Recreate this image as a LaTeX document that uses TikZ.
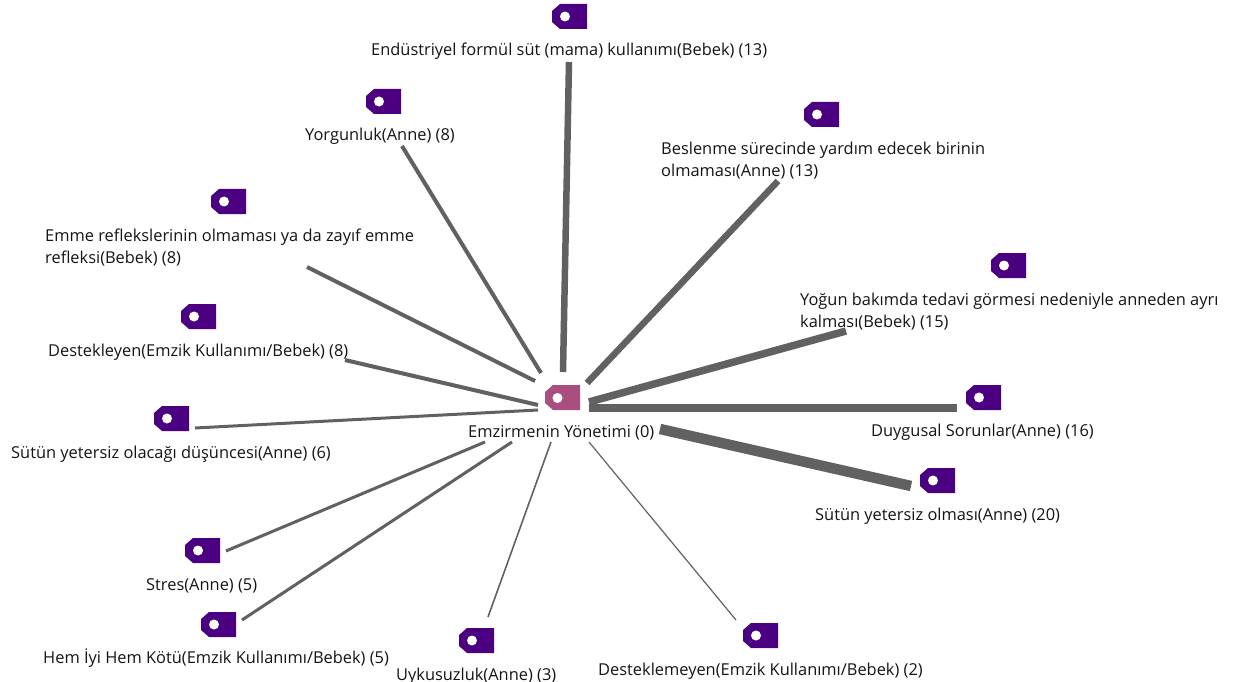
\documentclass[tikz,border=0pt]{standalone}
\usepackage{fontspec}
\setmainfont{Open Sans}
\tikzset{
  x=1pt,y=-1pt,
  lab/.style={anchor=base west,inner sep=0pt,font=\fontsize{16.4}{21.5}\selectfont,text=black!92,align=left},
  edge/.style={draw=black!62,line width=#1},
  hole/.style={circle,fill=white,inner sep=0pt,minimum size=10pt},
}
\newcommand{\tagat}[3]{%
  \node[hole] (#1) at (#2+13,#3+12.5) {};
  \begin{pgfonlayer}{bg}
  \fill[purpletag] (#2+8,#3) -- (#2+35,#3) -- (#2+35,#3+25) -- (#2+8,#3+25) -- (#2,#3+18) -- (#2,#3+7) -- cycle;
  \end{pgfonlayer}
}
\definecolor{purpletag}{HTML}{4B0082}
\definecolor{hubtag}{HTML}{A94F80}
\pgfdeclarelayer{bg}
\pgfsetlayers{bg,main}
\begin{document}
\begin{tikzpicture}
\useasboundingbox (0,0) rectangle (1243,682);
% tags
\tagat{t1}{552}{4}
\tagat{t2}{366}{89}
\tagat{t3}{804}{102}
\tagat{t4}{211}{189}
\tagat{t5}{991}{253}
\tagat{t6}{181}{304}
\tagat{t7}{966}{385}
\tagat{t8}{154}{406}
\tagat{t9}{920}{468}
\tagat{t10}{185}{538}
\tagat{t11}{201}{612}
\tagat{t12}{459}{628}
\tagat{t13}{743}{623}
% hub
\node[hole] (hub) at (557.5,398) {};
\begin{pgfonlayer}{bg}
\fill[hubtag] (553,385) -- (580,385) -- (580,410) -- (553,410) -- (545,403) -- (545,392) -- cycle;
\end{pgfonlayer}
% labels
\node[lab] (lhub) at (468,437) {Emzirmenin Yönetimi (0)};
\node[lab] (l1) at (371,56) {Endüstriyel formül süt (mama) kullanımı(Bebek) (13)};
\node[lab] (l2) at (305,141) {Yorgunluk(Anne) (8)};
\node[lab,anchor=north west] (l3) at (661,142) {Beslenme sürecinde yardım edecek birinin\\olmaması(Anne) (13)};
\node[lab,anchor=north west] (l4) at (45,229) {Emme reflekslerinin olmaması ya da zayıf emme\\refleksi(Bebek) (8)};
\node[lab,anchor=north west] (l5) at (800,293) {Yoğun bakımda tedavi görmesi nedeniyle anneden ayrı\\kalması(Bebek) (15)};
\node[lab] (l6) at (48,356) {Destekleyen(Emzik Kullanımı/Bebek) (8)};
\node[lab] (l7) at (871,436) {Duygusal Sorunlar(Anne) (16)};
\node[lab] (l8) at (11,458) {Sütün yetersiz olacağı düşüncesi(Anne) (6)};
\node[lab] (l9) at (815,520) {Sütün yetersiz olması(Anne) (20)};
\node[lab] (l10) at (146,590) {Stres(Anne) (5)};
\node[lab] (l11) at (43,663) {Hem İyi Hem Kötü(Emzik Kullanımı/Bebek) (5)};
\node[lab] (l12) at (396,680) {Uykusuzluk(Anne) (3)};
\node[lab] (l13) at (598,675) {Desteklemeyen(Emzik Kullanımı/Bebek) (2)};
% connector ends
\coordinate (a1) at (563,372); \coordinate (b1) at (569,62);
\coordinate (a2) at (541,373); \coordinate (b2) at (402,146);
\coordinate (a3) at (587,383); \coordinate (b3) at (778,181);
\coordinate (a4) at (535,381); \coordinate (b4) at (307,267);
\coordinate (a5) at (538,405); \coordinate (b5) at (345,360);
\coordinate (a6) at (538,410); \coordinate (b6) at (195,428);
\coordinate (a7) at (589,402); \coordinate (b7) at (846,331);
\coordinate (a8) at (589,408); \coordinate (b8) at (957,408);
\coordinate (a9) at (660,429); \coordinate (b9) at (911,486);
\coordinate (a10) at (485,442); \coordinate (b10) at (226,551);
\coordinate (a11) at (512,442); \coordinate (b11) at (242,620);
\coordinate (a12) at (551,442); \coordinate (b12) at (488,617);
\coordinate (a13) at (589,442); \coordinate (b13) at (736,620);
\draw[edge=6.5pt] (a1) -- (b1);
\draw[edge=4pt] (a2) -- (b2);
\draw[edge=6.5pt] (a3) -- (b3);
\draw[edge=4pt] (a4) -- (b4);
\draw[edge=4pt] (a5) -- (b5);
\draw[edge=3pt] (a6) -- (b6);
\draw[edge=7.5pt] (a7) -- (b7);
\draw[edge=8pt] (a8) -- (b8);
\draw[edge=10.5pt] (a9) -- (b9);
\draw[edge=3pt] (a10) -- (b10);
\draw[edge=3pt] (a11) -- (b11);
\draw[edge=1.6pt] (a12) -- (b12);
\draw[edge=1.2pt] (a13) -- (b13);
\end{tikzpicture}
\end{document}
